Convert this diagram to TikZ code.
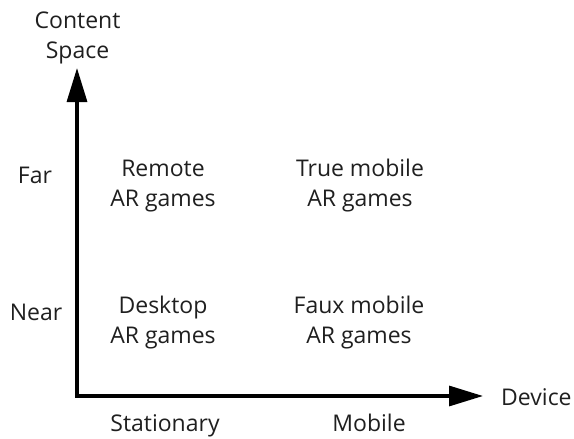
\documentclass[tikz,border=0pt]{standalone}
\usepackage{fontspec}
\setmainfont{Open Sans}
\usetikzlibrary{arrows.meta}
\begin{document}
\begin{tikzpicture}[x=1pt,y=-1pt,
  axis/.style={line width=3.2pt,-{Triangle[length=34pt,width=20pt]}},
  lbl/.style={font=\fontsize{23}{30}\selectfont,text=black!88,align=center,inner sep=0pt,anchor=base}]
\useasboundingbox (0,0) rectangle (574,439);
% axes
\coordinate (o) at (77,396);
\coordinate (ytip) at (77,68);
\coordinate (xtip) at (483,396);
\draw[axis] ([yshift=-1.6pt]o) -- (ytip);
\draw[axis] ([xshift=-1.6pt]o) -- (xtip);
% axis titles (base anchor = baseline of the last line)
\node[lbl] (ytitle) at (77.5,58) {Content\\Space};
\node[lbl,anchor=base west] (xtitle) at (501,405) {Device};
% row and column labels
\node[lbl] (far) at (35,183) {Far};
\node[lbl] (near) at (36,320) {Near};
\node[lbl] (stat) at (165,431) {Stationary};
\node[lbl] (mob) at (369,431) {Mobile};
% quadrant cells
\node[lbl] (remote) at (163,206) {Remote\\AR games};
\node[lbl] (truemob) at (360,206) {True mobile\\AR games};
\node[lbl] (desk) at (163,343) {Desktop\\AR games};
\node[lbl] (faux) at (359,343) {Faux mobile\\AR games};
\end{tikzpicture}
\end{document}
